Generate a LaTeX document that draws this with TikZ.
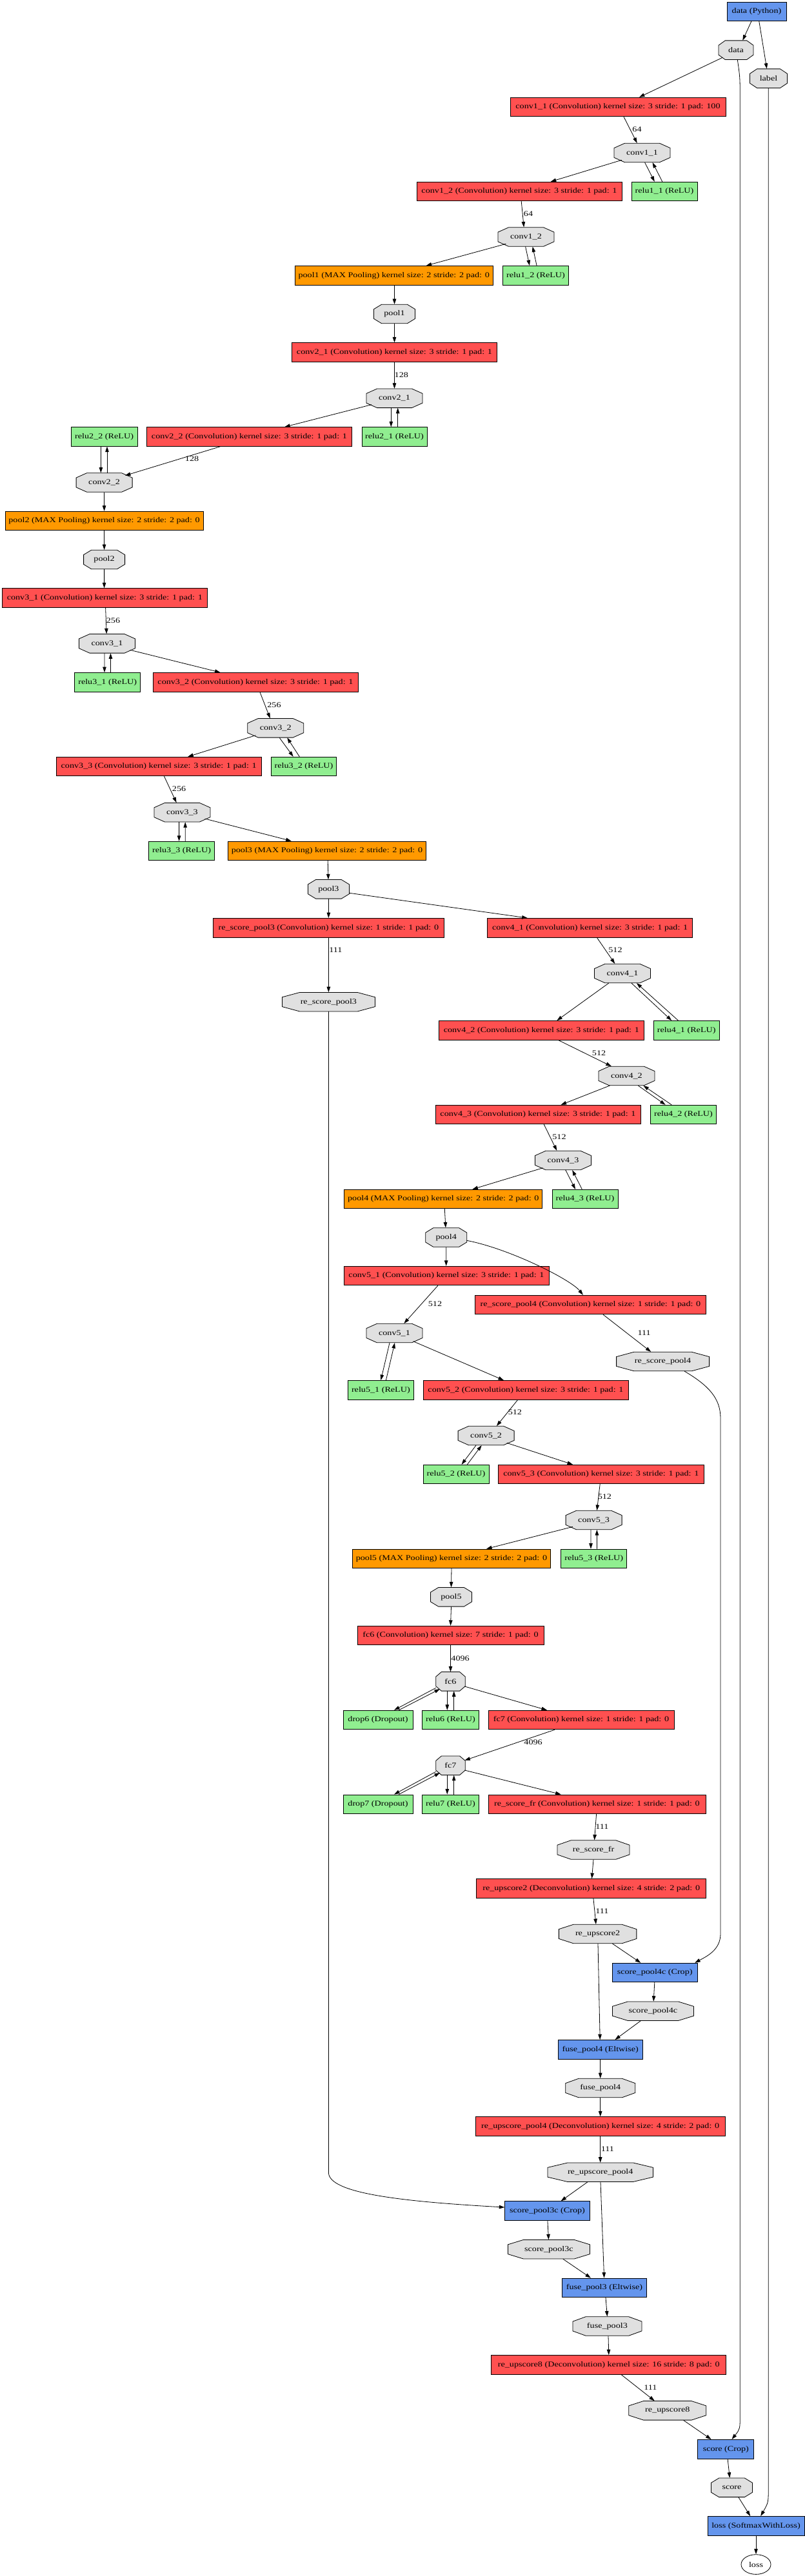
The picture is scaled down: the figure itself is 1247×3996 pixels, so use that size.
\documentclass[tikz,border=0pt]{standalone}
\usepackage{fontspec}
\setmainfont{Liberation Serif}[FakeStretch=1.22]
\usetikzlibrary{arrows.meta,shapes.geometric}
\definecolor{convred}{HTML}{FF5050}
\definecolor{poolorange}{HTML}{FF9900}
\definecolor{relugreen}{HTML}{90EE90}
\definecolor{miscblue}{HTML}{6495ED}
\definecolor{blobgray}{HTML}{E0E0E0}
\newcommand\gvblob[5]{%
  \pgfmathsetmacro\gvcx{0.19*#4}%
  \pgfmathsetmacro\gvhw{#4/2}%
  \filldraw[octline] (#2-\gvhw+\gvcx,#3-14.8) -- (#2+\gvhw-\gvcx,#3-14.8) -- (#2+\gvhw,#3-7.4) -- (#2+\gvhw,#3+7.4) -- (#2+\gvhw-\gvcx,#3+14.8) -- (#2-\gvhw+\gvcx,#3+14.8) -- (#2-\gvhw,#3+7.4) -- (#2-\gvhw,#3-7.4) -- cycle;
  \node[blobtxt, minimum width=#4bp] (#1) at (#2,#3) {#5};
}
\tikzset{
  every node/.style={font=\fontsize{11.6bp}{13bp}\selectfont},
  lbox/.style={draw=black, line width=0.8bp, minimum height=29.6bp, inner xsep=3bp, inner ysep=0pt},
  conv/.style={lbox, fill=convred},
  pool/.style={lbox, fill=poolorange},
  relu/.style={lbox, fill=relugreen},
  misc/.style={lbox, fill=miscblue},
  blobtxt/.style={inner sep=0pt, minimum height=29.6bp},
  octline/.style={draw=black, fill=blobgray, line width=0.8bp},
  e/.style={draw=black, line width=0.8bp, -{Triangle[length=8.5bp,width=5.5bp]}},
  elab/.style={inner sep=0pt},
}
\begin{document}
\begin{tikzpicture}[x=1bp,y=-1bp]
\fill[white] (0,0) rectangle (1247,3996);
\useasboundingbox (0,0) rectangle (1247,3996);

\node[misc, minimum width=92bp] (dpy) at (1173,18) {data (Python)};
\gvblob{data}{1141}{77.7}{54}{data}
\gvblob{label}{1191.5}{121.7}{58}{label}
\node[conv, minimum width=334bp] (c11b) at (958,166) {conv1\_1 (Convolution) kernel size: 3 stride: 1 pad: 100};
\gvblob{c11}{995.5}{237}{87}{conv1\_1}
\node[conv, minimum width=318bp] (c12b) at (805,297) {conv1\_2 (Convolution) kernel size: 3 stride: 1 pad: 1};
\node[relu, minimum width=102bp] (r11) at (1030,297) {relu1\_1 (ReLU)};
\gvblob{c12}{815.5}{367.5}{87}{conv1\_2}
\node[pool, minimum width=307bp] (p1b) at (610.7,427.3) {pool1 (MAX Pooling) kernel size: 2 stride: 2 pad: 0};
\node[relu, minimum width=102bp] (r12) at (830.5,427.3) {relu1\_2 (ReLU)};
\gvblob{p1}{611.5}{487}{64}{pool1}
\node[conv, minimum width=318bp] (c21b) at (611.5,546.5) {conv2\_1 (Convolution) kernel size: 3 stride: 1 pad: 1};
\gvblob{c21}{611.5}{617.8}{87}{conv2\_1}
\node[relu, minimum width=103bp] (r22) at (161.6,677.5) {relu2\_2 (ReLU)};
\node[conv, minimum width=318bp] (c22b) at (386.5,677.5) {conv2\_2 (Convolution) kernel size: 3 stride: 1 pad: 1};
\node[relu, minimum width=101bp] (r21) at (611.5,677.5) {relu2\_1 (ReLU)};
\gvblob{c22}{161.6}{748.5}{87}{conv2\_2}
\node[pool, minimum width=307bp] (p2b) at (161.6,808) {pool2 (MAX Pooling) kernel size: 2 stride: 2 pad: 0};
\gvblob{p2}{161.6}{868}{64}{pool2}
\node[conv, minimum width=318bp] (c31b) at (162.3,927.5) {conv3\_1 (Convolution) kernel size: 3 stride: 1 pad: 1};
\gvblob{c31}{166}{998.3}{87}{conv3\_1}
\node[relu, minimum width=102bp] (r31) at (166.7,1058.3) {relu3\_1 (ReLU)};
\node[conv, minimum width=318bp] (c32b) at (396,1058.3) {conv3\_2 (Convolution) kernel size: 3 stride: 1 pad: 1};
\gvblob{c32}{427.2}{1129.3}{87}{conv3\_2}
\node[conv, minimum width=318bp] (c33b) at (246.2,1189) {conv3\_3 (Convolution) kernel size: 3 stride: 1 pad: 1};
\node[relu, minimum width=101bp] (r32) at (471,1189) {relu3\_2 (ReLU)};
\gvblob{c33}{282.4}{1260.2}{87}{conv3\_3}
\node[relu, minimum width=102bp] (r33) at (281.6,1320) {relu3\_3 (ReLU)};
\node[pool, minimum width=307bp] (p3b) at (507,1319.7) {pool3 (MAX Pooling) kernel size: 2 stride: 2 pad: 0};
\gvblob{p3}{509.4}{1379.3}{64}{pool3}
\node[conv, minimum width=358bp] (rsp3b) at (509.4,1439.2) {re\_score\_pool3 (Convolution) kernel size: 1 stride: 1 pad: 0};
\node[conv, minimum width=318bp] (c41b) at (914.7,1439.2) {conv4\_1 (Convolution) kernel size: 3 stride: 1 pad: 1};
\gvblob{rsp3}{509.4}{1554.2}{144}{re\_score\_pool3}
\gvblob{c41}{965}{1510}{87}{conv4\_1}
\node[conv, minimum width=318bp] (c42b) at (839.3,1598.3) {conv4\_2 (Convolution) kernel size: 3 stride: 1 pad: 1};
\node[relu, minimum width=102bp] (r41) at (1064.2,1598.3) {relu4\_1 (ReLU)};
\gvblob{c42}{971.4}{1669}{87}{conv4\_2}
\node[conv, minimum width=318bp] (c43b) at (834,1729) {conv4\_3 (Convolution) kernel size: 3 stride: 1 pad: 1};
\node[relu, minimum width=102bp] (r42) at (1059.5,1729) {relu4\_2 (ReLU)};
\gvblob{c43}{873}{1800}{87}{conv4\_3}
\node[pool, minimum width=307bp] (p4b) at (687.3,1860) {pool4 (MAX Pooling) kernel size: 2 stride: 2 pad: 0};
\node[relu, minimum width=102bp] (r43) at (907,1860) {relu4\_3 (ReLU)};
\gvblob{p4}{691.7}{1919.5}{64}{pool4}
\node[conv, minimum width=318bp] (c51b) at (692,1979) {conv5\_1 (Convolution) kernel size: 3 stride: 1 pad: 1};
\node[conv, minimum width=358bp] (rsp4b) at (915.5,2024) {re\_score\_pool4 (Convolution) kernel size: 1 stride: 1 pad: 0};
\gvblob{c51}{611.5}{2068}{87}{conv5\_1}
\gvblob{rsp4}{1027.6}{2112}{144}{re\_score\_pool4}
\node[relu, minimum width=102bp] (r51) at (590.4,2156.3) {relu5\_1 (ReLU)};
\node[conv, minimum width=318bp] (c52b) at (815,2156.3) {conv5\_2 (Convolution) kernel size: 3 stride: 1 pad: 1};
\gvblob{c52}{753.6}{2227}{87}{conv5\_2}
\node[relu, minimum width=102bp] (r52) at (707,2287) {relu5\_2 (ReLU)};
\node[conv, minimum width=319bp] (c53b) at (931.8,2287) {conv5\_3 (Convolution) kernel size: 3 stride: 1 pad: 1};
\gvblob{c53}{920.6}{2358}{87}{conv5\_3}
\node[pool, minimum width=307bp] (p5b) at (700,2417.8) {pool5 (MAX Pooling) kernel size: 2 stride: 2 pad: 0};
\node[relu, minimum width=102bp] (r53) at (920.7,2417.8) {relu5\_3 (ReLU)};
\gvblob{p5}{699.5}{2477.3}{64}{pool5}
\node[conv, minimum width=289bp] (fc6b) at (698.5,2537) {fc6 (Convolution) kernel size: 7 stride: 1 pad: 0};
\gvblob{fc6}{698.5}{2608.3}{45.5}{fc6}
\node[relu, minimum width=108bp] (d6) at (586,2668) {drop6 (Dropout)};
\node[relu, minimum width=88.5bp] (r6) at (698.5,2668) {relu6 (ReLU)};
\node[conv, minimum width=288bp] (fc7b) at (901,2668) {fc7 (Convolution) kernel size: 1 stride: 1 pad: 0};
\gvblob{fc7}{698.5}{2738.7}{45.5}{fc7}
\node[relu, minimum width=108bp] (d7) at (586,2798.7) {drop7 (Dropout)};
\node[relu, minimum width=88.5bp] (r7) at (698.5,2798.7) {relu7 (ReLU)};
\node[conv, minimum width=337bp] (rsfrb) at (925.4,2798.7) {re\_score\_fr (Convolution) kernel size: 1 stride: 1 pad: 0};
\gvblob{rsfr}{920}{2869.5}{112}{re\_score\_fr}
\node[conv, minimum width=356bp] (ru2b) at (916.7,2929.3) {re\_upscore2 (Deconvolution) kernel size: 4 stride: 2 pad: 0};
\gvblob{ru2}{926.6}{3000}{120.5}{re\_upscore2}
\node[misc, minimum width=131.6bp] (sp4cb) at (1015.2,3060) {score\_pool4c (Crop)};
\gvblob{sp4c}{1012.4}{3119.7}{126}{score\_pool4c}
\node[misc, minimum width=131.6bp] (fp4b) at (930.7,3179.3) {fuse\_pool4 (Eltwise)};
\gvblob{fp4}{930.7}{3239}{108}{fuse\_pool4}
\node[conv, minimum width=387bp] (rup4b) at (930.7,3298.5) {re\_upscore\_pool4 (Deconvolution) kernel size: 4 stride: 2 pad: 0};
\gvblob{rup4}{930.7}{3369.7}{163.5}{re\_upscore\_pool4}
\node[misc, minimum width=131.6bp] (sp3cb) at (848.5,3429.5) {score\_pool3c (Crop)};
\gvblob{sp3c}{850.9}{3489.2}{127}{score\_pool3c}
\node[misc, minimum width=131.6bp] (fp3b) at (937,3548.8) {fuse\_pool3 (Eltwise)};
\gvblob{fp3}{941.4}{3608.5}{107}{fuse\_pool3}
\node[conv, minimum width=364bp] (ru8b) at (943.8,3668.3) {re\_upscore8 (Deconvolution) kernel size: 16 stride: 8 pad: 0};
\gvblob{ru8}{1034.8}{3739.3}{120}{re\_upscore8}
\node[misc, minimum width=87bp] (scb) at (1125.3,3799.2) {score (Crop)};
\gvblob{sc}{1134.5}{3858.8}{64}{score}
\node[misc, minimum width=150bp] (lossb) at (1172,3918.3) {loss (SoftmaxWithLoss)};
\node[draw, ellipse, line width=0.8bp, minimum width=46bp, minimum height=30.7bp, inner sep=0pt] (loss) at (1172,3978) {loss};

% edge labels
\node[elab] (l1) at (987.5,200.7) {64};
\node[elab] (l2) at (819,331.7) {64};
\node[elab] (l3) at (622.3,581.7) {128};
\node[elab] (l4) at (297.6,711.7) {128};
\node[elab] (l5) at (175.5,962.3) {256};
\node[elab] (l6) at (425,1093.7) {256};
\node[elab] (l7) at (277.6,1223.7) {256};
\node[elab] (l8) at (520.4,1474) {111};
\node[elab] (l9) at (954,1474) {512};
\node[elab] (l10) at (928.6,1633.3) {512};
\node[elab] (l11) at (867,1764) {512};
\node[elab] (l12) at (674.5,2022.7) {512};
\node[elab] (l13) at (998.6,2067.3) {111};
\node[elab] (l14) at (798.4,2190.7) {512};
\node[elab] (l15) at (937.4,2321.7) {512};
\node[elab] (l16) at (713.6,2572.3) {4096};
\node[elab] (l17) at (826.6,2702.3) {4096};
\node[elab] (l18) at (933.4,2833.3) {111};
\node[elab] (l19) at (933.4,2964.3) {111};
\node[elab] (l20) at (941.9,3333.3) {111};
\node[elab] (l21) at (1008.4,3703.3) {111};

% edges
\draw[e] ([xshift=-8.2bp]dpy.south) -- ([xshift=10.3bp]data.north);
\draw[e] ([xshift=3.8bp]dpy.south) -- ([xshift=-2.7bp]label.north);
\draw[e] ([shift={(-20.9,11.6)}]data.center) -- ([xshift=32.9bp]c11b.north);
\draw[e] ([xshift=2.3bp]data.south) .. controls (1147.3,120) .. (1147.3,160) -- (1147.3,3745) .. controls (1147.3,3768) .. ([xshift=9.2bp]scb.north);
\draw[e] ([xshift=-0.3bp]label.south) -- (1191.2,3860) .. controls (1191.2,3882) .. ([xshift=7.2bp]lossb.north);
\draw[e] ([xshift=9bp]c11b.south) -- ([xshift=-7.8bp]c11.north);
\draw[e] ([shift={(-31.8,11.3)}]c11.center) -- ([xshift=48.7bp]c12b.north);
\draw[e] ([xshift=4.1bp]c11.south) -- ([xshift=-15.2bp]r11.north);
\draw[e] ([xshift=-3.2bp]r11.north) -- ([xshift=16.1bp]c11.south);
\draw[e] ([xshift=3.2bp]c12b.south) -- ([xshift=-3.3bp]c12.north);
\draw[e] ([shift={(-31.2,10.8)}]c12.center) -- ([xshift=49.9bp]p1b.north);
\draw[e] ([xshift=-0.9bp]c12.south) -- ([xshift=-9.5bp]r12.north);
\draw[e] ([xshift=1.6bp]r12.north) -- ([xshift=10.2bp]c12.south);
\draw[e] ([xshift=0.8bp]p1b.south) -- (p1.north);
\draw[e] (p1.south) -- (c21b.north);
\draw[e] (c21b.south) -- (c21.north);
\draw[e] ([shift={(-35.5,9.9)}]c21.center) -- ([xshift=54.7bp]c22b.north);
\draw[e] ([xshift=-5.2bp]c21.south) -- ([xshift=-5.2bp]r21.north);
\draw[e] ([xshift=5.2bp]r21.north) -- ([xshift=5.2bp]c21.south);
\draw[e] ([xshift=-45bp]c22b.south) -- ([shift={(32.3,-10.8)}]c22.center);
\draw[e] ([xshift=4.4bp]c22.north) -- ([xshift=4.4bp]r22.south);
\draw[e] ([xshift=-5.2bp]r22.south) -- ([xshift=-5.2bp]c22.north);
\draw[e] (c22.south) -- (p2b.north);
\draw[e] (p2b.south) -- (p2.north);
\draw[e] (p2.south) -- ([xshift=-0.7bp]c31b.north);
\draw[e] ([xshift=1.3bp]c31b.south) -- ([xshift=-0.8bp]c31.north);
\draw[e] ([xshift=-4bp]c31.south) -- ([xshift=-4.7bp]r31.north);
\draw[e] ([xshift=4.8bp]r31.north) -- ([xshift=5.5bp]c31.south);
\draw[e] ([shift={(35.8,10)}]c31.center) -- ([xshift=-54.5bp]c32b.north);
\draw[e] ([xshift=6.9bp]c32b.south) -- ([xshift=-8.4bp]c32.north);
\draw[e] ([shift={(-30.7,11.4)}]c32.center) -- ([xshift=45bp]c33b.north);
\draw[e] ([xshift=6bp]c32.south) -- ([xshift=-16.3bp]r32.north);
\draw[e] ([xshift=-6.7bp]r32.north) -- ([xshift=18bp]c32.south);
\draw[e] ([xshift=8.3bp]c33b.south) -- ([xshift=-8.8bp]c33.north);
\draw[e] ([xshift=-4.8bp]c33.south) -- ([xshift=-4bp]r33.north);
\draw[e] ([xshift=5.6bp]r33.north) -- ([xshift=4.8bp]c33.south);
\draw[e] ([shift={(35.1,9.8)}]c33.center) -- ([xshift=-55.4bp]p3b.north);
\draw[e] ([xshift=1.2bp]p3b.south) -- ([xshift=-0.4bp]p3.north);
\draw[e] (p3.south) -- (rsp3b.north);
\draw[e] ([shift={(32.3,6)}]p3.center) -- ([xshift=-97bp]c41b.north);
\draw[e] (rsp3b.south) -- (rsp3.north);
\draw[e] ([xshift=10.7bp]c41b.south) -- ([xshift=-11.7bp]c41.north);
\draw[e] (rsp3.south) -- (509.4,3370) .. controls (509.4,3402) and (620,3415) .. ([yshift=5.5bp]sp3cb.west);
\draw[e] ([xshift=-21.2bp]c41.south) -- ([xshift=24bp]c42b.north);
\draw[e] ([xshift=13.9bp]c41.south) -- ([xshift=-23bp]r41.north);
\draw[e] ([xshift=-12.7bp]r41.north) -- ([xshift=21.9bp]c41.south);
\draw[e] ([xshift=26.3bp]c42b.south) -- ([xshift=-23.6bp]c42.north);
\draw[e] ([xshift=-26bp]c42.south) -- ([xshift=35.6bp]c43b.north);
\draw[e] ([xshift=17.9bp]c42.south) -- ([xshift=-27.9bp]r42.north);
\draw[e] ([xshift=-18.3bp]r42.north) -- ([xshift=25.9bp]c42.south);
\draw[e] ([xshift=9.3bp]c43b.south) -- ([xshift=-9.7bp]c43.north);
\draw[e] ([shift={(-31.3,11.7)}]c43.center) -- ([xshift=45.1bp]p4b.north);
\draw[e] ([xshift=3.8bp]c43.south) -- ([xshift=-15bp]r43.north);
\draw[e] ([xshift=-4.7bp]r43.north) -- ([xshift=14.2bp]c43.south);
\draw[e] ([xshift=2bp]p4b.south) -- ([xshift=-0.8bp]p4.north);
\draw[e] (p4.south) -- ([xshift=-0.3bp]c51b.north);
\draw[e] ([shift={(31.9,4.8)}]p4.center) .. controls (790,1937) and (885,1985) .. ([xshift=-11.6bp]rsp4b.north);
\draw[e] ([xshift=-13.1bp]c51b.south) -- ([xshift=14.8bp]c51.north);
\draw[e] ([xshift=19.5bp]rsp4b.south) -- ([xshift=-18.4bp]rsp4.north);
\draw[e] ([xshift=-7.5bp]c51.south) -- (r51.north);
\draw[e] ([xshift=8bp]r51.north) -- ([xshift=0.5bp]c51.south);
\draw[e] ([shift={(29.1,12.7)}]c51.center) -- ([xshift=-34bp]c52b.north);
\draw[e] ([xshift=33.4bp]rsp4.south) .. controls (1100,2150) and (1117,2170) .. (1117,2200) -- (1117,3000) .. controls (1117,3025) and (1095,3035) .. ([xshift=62bp]sp4cb.north);
\draw[e] ([xshift=-12.4bp]c52b.south) -- ([xshift=16.3bp]c52.north);
\draw[e] ([xshift=-15.6bp]c52.south) -- ([xshift=8.6bp]r52.north);
\draw[e] ([xshift=17.4bp]r52.north) -- ([xshift=-6.9bp]c52.south);
\draw[e] ([shift={(32.2,11.3)}]c52.center) -- ([xshift=-43.8bp]c53b.north);
\draw[e] ([xshift=-1.6bp]c53b.south) -- ([xshift=4.8bp]c53.north);
\draw[e] ([shift={(-32.6,10.3)}]c53.center) -- ([xshift=54bp]p5b.north);
\draw[e] ([xshift=-4.6bp]c53.south) -- ([xshift=-4.7bp]r53.north);
\draw[e] ([xshift=4.7bp]r53.north) -- ([xshift=4.8bp]c53.south);
\draw[e] (p5b.south) -- (p5.north);
\draw[e] (p5.south) -- (fc6b.north);
\draw[e] (fc6b.south) -- (fc6.north);
\draw[e] ([shift={(-22.8,10)}]fc6.center) -- ([xshift=25bp]d6.north);
\draw[e] ([xshift=32.3bp]d6.north) -- ([shift={(-16.5,11.7)}]fc6.center);
\draw[e] ([xshift=-5.2bp]fc6.south) -- ([xshift=-5.2bp]r6.north);
\draw[e] ([xshift=5.2bp]r6.north) -- ([xshift=5.2bp]fc6.south);
\draw[e] ([shift={(21.9,7.7)}]fc6.center) -- ([xshift=-53bp]fc7b.north);
\draw[e] ([xshift=-41bp]fc7b.south) -- ([shift={(21.9,-8)}]fc7.center);
\draw[e] ([shift={(-22.8,9.6)}]fc7.center) -- ([xshift=25bp]d7.north);
\draw[e] ([xshift=32.3bp]d7.north) -- ([shift={(-16.5,11.3)}]fc7.center);
\draw[e] ([xshift=-5.2bp]fc7.south) -- ([xshift=-5.2bp]r7.north);
\draw[e] ([xshift=5.2bp]r7.north) -- ([xshift=5.2bp]fc7.south);
\draw[e] ([shift={(21.9,7.3)}]fc7.center) -- ([xshift=-55.8bp]rsfrb.north);
\draw[e] ([xshift=-0.8bp]rsfrb.south) -- ([xshift=1.5bp]rsfr.north);
\draw[e] (rsfr.south) -- ([xshift=0.8bp]ru2b.north);
\draw[e] ([xshift=3.2bp]ru2b.south) -- ([xshift=-2.7bp]ru2.north);
\draw[e] ([xshift=0.4bp]ru2.south) -- ([xshift=-0.5bp]fp4b.north);
\draw[e] ([xshift=22.8bp]ru2.south) -- ([xshift=-21.9bp]sp4cb.north);
\draw[e] ([xshift=-0.4bp]sp4cb.south) -- ([xshift=0.8bp]sp4c.north);
\draw[e] ([xshift=-19.1bp]sp4c.south) -- ([xshift=22.7bp]fp4b.north);
\draw[e] (fp4b.south) -- (fp4.north);
\draw[e] (fp4.south) -- (rup4b.north);
\draw[e] (rup4b.south) -- (rup4.north);
\draw[e] ([xshift=-19.7bp]rup4.south) -- ([xshift=21.1bp]sp3cb.north);
\draw[e] ([xshift=0.3bp]rup4.south) -- ([xshift=-0.4bp]fp3b.north);
\draw[e] ([xshift=0.4bp]sp3cb.south) -- ([xshift=-0.4bp]sp3c.north);
\draw[e] ([xshift=21.9bp]sp3c.south) -- ([xshift=-21.1bp]fp3b.north);
\draw[e] ([xshift=2bp]fp3b.south) -- (fp3.north);
\draw[e] ([xshift=1.6bp]fp3.south) -- (ru8b.north);
\draw[e] ([xshift=19.2bp]ru8b.south) -- ([xshift=-20bp]ru8.north);
\draw[e] ([xshift=24.7bp]ru8.south) -- ([xshift=-22.7bp]scb.north);
\draw[e] ([xshift=2.8bp]scb.south) -- ([xshift=-3.2bp]sc.north);
\draw[e] ([xshift=10.4bp]sc.south) -- ([xshift=-8.8bp]lossb.north);
\draw[e] (lossb.south) -- (loss.north);
\end{tikzpicture}
\end{document}
